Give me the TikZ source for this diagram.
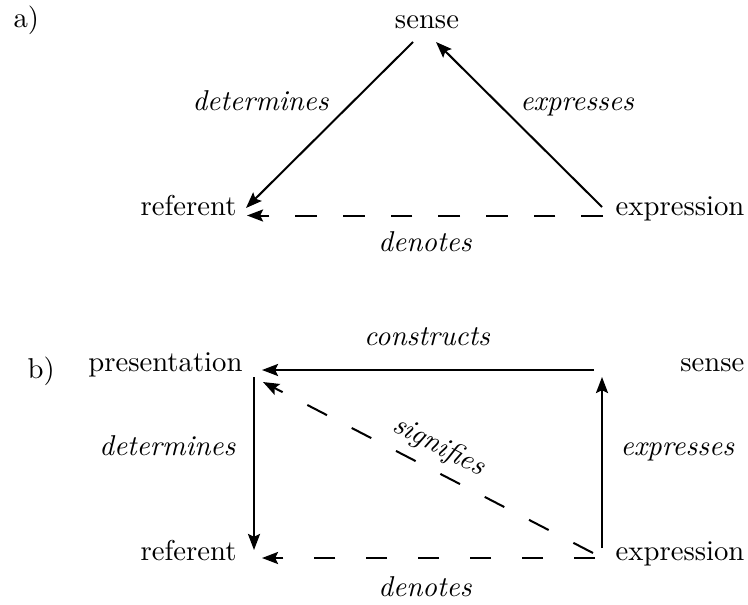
\documentclass[tikz,border=0pt]{standalone}
\usetikzlibrary{arrows.meta}
\begin{document}
\begin{tikzpicture}[x=0.3484pt,y=-0.3484pt,
  txt/.style={inner sep=0pt},
  lab/.style={inner sep=0pt, font=\itshape},
  conn/.style={line width=0.7pt, -{Stealth[length=5.6pt,width=4.2pt,inset=1pt]}},
  dashA/.style={dash pattern=on 7.6pt off 9pt},
  dashB/.style={dash pattern=on 7.3pt off 10.8pt},
  dashD/.style={dash pattern=on 7.7pt off 9.7pt}]
\useasboundingbox (0,0) rectangle (748,604);
% ---------- a) ----------
\node[txt, anchor=base west] (la) at (13,27) {a)};
\node[txt, anchor=base] (senseA) at (427,28) {sense};
\node[txt, anchor=base east] (refA) at (237,215) {referent};
\node[txt, anchor=base east] (expA) at (745,215) {expression};
\node[lab, anchor=base west] (detA) at (192,110) {determines};
\node[lab, anchor=base] (exprsA) at (577,110) {expresses};
\node[lab, anchor=base] (denA) at (425,251) {denotes};
\coordinate (sAL) at (413,42);
\coordinate (sAR) at (436,42);
\coordinate (rAu) at (246,208);
\coordinate (rAd) at (247,215.5);
\coordinate (eAu) at (602,207);
\coordinate (eAd) at (603,215.5);
\draw[conn] (sAL) -- (rAu);
\draw[conn] (eAu) -- (sAR);
\draw[conn, dashA] (eAd) -- (rAd);
% ---------- b) ----------
\node[txt, anchor=base west] (lb) at (27,378) {b)};
\node[txt, anchor=base east] (presB) at (243,371) {presentation};
\node[txt, anchor=base east] (senseB) at (745,371) {sense};
\node[txt, anchor=base east] (refB) at (237,560) {referent};
\node[txt, anchor=base east] (expB) at (745,560) {expression};
\node[lab, anchor=base] (conB) at (427,345) {constructs};
\node[lab, anchor=base east] (detB) at (236,455) {determines};
\node[lab, anchor=base west] (exprsB) at (620,455) {expresses};
\node[lab, anchor=base] (denB) at (425,596) {denotes};
\coordinate (pH) at (262,370);
\coordinate (pV) at (254,377);
\coordinate (pD) at (263,382);
\coordinate (rV) at (254,550);
\coordinate (rD) at (262,558);
\coordinate (sH) at (594,370);
\coordinate (sV) at (602,377);
\coordinate (eV) at (602,548);
\coordinate (eD) at (593,553);
\coordinate (eB) at (595,558);
\draw[conn] (sH) -- (pH);
\draw[conn] (pV) -- (rV);
\draw[conn] (eV) -- (sV);
\draw[conn, dashB] (eB) -- (rD);
\draw[conn, dashD] (eD) -- (pD);
\path (pD) -- node[lab, sloped, midway, above=3.4pt] (sigB) {signifies} (eD);
\end{tikzpicture}
\end{document}
